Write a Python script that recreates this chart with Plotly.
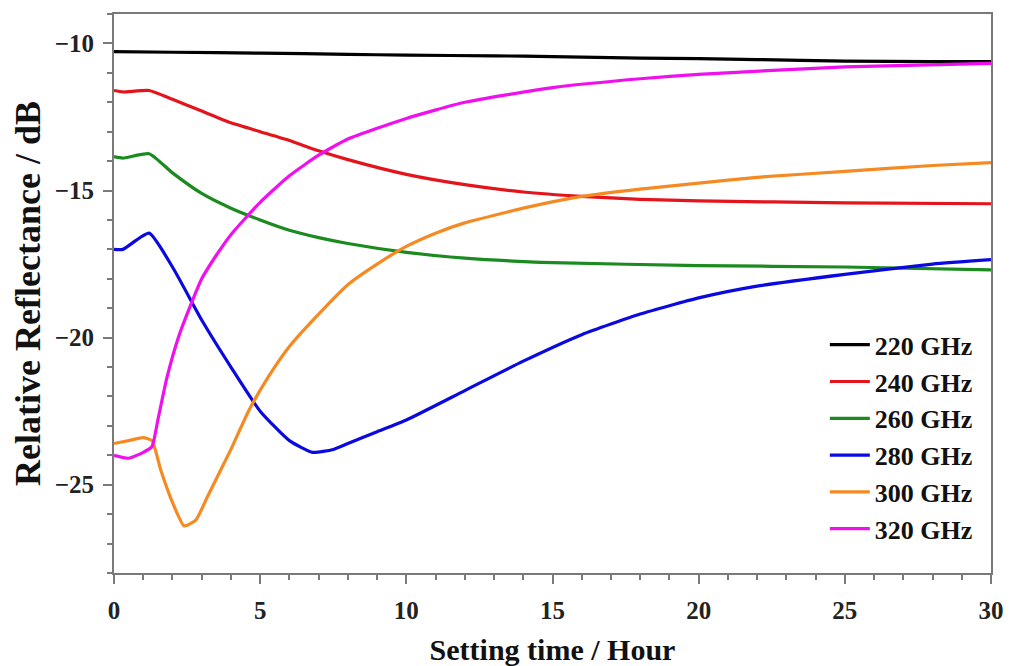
import plotly.graph_objects as go

# ---- data ----
labels = ["220 GHz", "240 GHz", "260 GHz", "280 GHz", "300 GHz", "320 GHz"]
colors = ["#000000", "#e3141c", "#1b8a1f", "#0a0ae0", "#f58a22", "#f010ee"]

x_220 = [0, 2, 5, 8, 10, 13, 15, 18, 20, 22, 25, 28, 30]
y_220 = [-10.28, -10.3, -10.33, -10.37, -10.4, -10.42, -10.45, -10.5, -10.52, -10.55, -10.6, -10.62, -10.62]

x_240 = [0, 0.3, 1.2, 2, 3, 4, 5, 6, 7, 8, 10, 12, 14, 16, 18, 20, 25, 30]
y_240 = [-11.6, -11.65, -11.6, -11.9, -12.3, -12.7, -13.0, -13.3, -13.65, -13.95, -14.45, -14.8, -15.05, -15.2, -15.3, -15.35, -15.42, -15.45]

x_260 = [0, 0.3, 1.2, 2, 3, 4, 5, 6, 7, 8, 10, 12, 15, 20, 25, 30]
y_260 = [-13.85, -13.9, -13.75, -14.4, -15.1, -15.6, -16.0, -16.35, -16.6, -16.8, -17.1, -17.3, -17.45, -17.55, -17.6, -17.7]

x_280 = [0, 0.3, 1.2, 2, 3, 4, 5, 6, 6.8, 7.5, 8, 9, 10, 12, 14, 16, 18, 20, 22, 25, 28, 30]
y_280 = [-17.0, -17.0, -16.45, -17.6, -19.4, -21.0, -22.5, -23.5, -23.9, -23.8, -23.6, -23.2, -22.8, -21.8, -20.8, -19.9, -19.2, -18.65, -18.25, -17.85, -17.5, -17.35]

x_300 = [0, 0.5, 1, 1.3, 1.6, 2.0, 2.4, 2.8, 3.2, 3.6, 4.0, 4.6, 5.3, 6, 7, 8, 9, 10, 11, 12, 14, 16, 18, 20, 22, 25, 28, 30]
y_300 = [-23.6, -23.5, -23.4, -23.5, -24.5, -25.6, -26.4, -26.2, -25.4, -24.6, -23.8, -22.5, -21.3, -20.3, -19.2, -18.2, -17.5, -16.9, -16.45, -16.1, -15.6, -15.2, -14.95, -14.75, -14.55, -14.35, -14.15, -14.05]

x_320 = [0, 0.5, 1, 1.3, 1.5, 1.8, 2.2, 2.7, 3, 3.5, 4, 5, 6, 7, 8, 10, 12, 15, 18, 20, 25, 30]
y_320 = [-24.0, -24.1, -23.9, -23.7, -22.8, -21.4, -20.0, -18.7, -18.0, -17.2, -16.5, -15.4, -14.5, -13.8, -13.25, -12.55, -12.0, -11.5, -11.2, -11.05, -10.8, -10.68]

xs = [x_220, x_240, x_260, x_280, x_300, x_320]
ys = [y_220, y_240, y_260, y_280, y_300, y_320]

x_ticks = [0, 5, 10, 15, 20, 25, 30]
y_ticks = [-25, -20, -15, -10]

SERIF = "Liberation Serif, Times New Roman, serif"
AXIS_GREY = "#7a7a7a"

fig = go.Figure()
for xv, yv, lab, col in zip(xs, ys, labels, colors):
    fig.add_trace(go.Scatter(x=xv, y=yv, mode="lines", name=lab,
                             line=dict(color=col, width=3.2, shape="spline", smoothing=0.5)))

axis_common = dict(
    showgrid=False, zeroline=False, showline=True, linecolor=AXIS_GREY, linewidth=2,
    mirror=True, ticks="outside", ticklen=9, tickwidth=2, tickcolor=AXIS_GREY,
    automargin=False,
    tickfont=dict(family=SERIF, size=25, color="#222222", weight="bold"),
)

fig.update_xaxes(range=[0, 30], tickvals=x_ticks, ticklabelstandoff=5,
                 minor=dict(dtick=1, ticks="outside", ticklen=5, tickwidth=2, tickcolor=AXIS_GREY),
                 title=dict(text="Setting time / Hour", font=dict(family=SERIF, size=30, color="#111111", weight="bold"), standoff=16),
                 **axis_common)
fig.update_yaxes(range=[-28, -9], tickvals=y_ticks, ticklabelstandoff=4,
                 minor=dict(dtick=1, ticks="outside", ticklen=5, tickwidth=2, tickcolor=AXIS_GREY),
                 title=dict(text="Relative Reflectance / dB", font=dict(family=SERIF, size=36, color="#111111", weight="bold"), standoff=12),
                 **axis_common)

# page body has an 8px margin; size/margins compensate so the plot area matches the reference
fig.update_layout(
    width=1003, height=658,
    margin=dict(l=106, r=20, t=6, b=93),
    plot_bgcolor="white", paper_bgcolor="white",
    showlegend=True,
    legend=dict(x=0.985, y=0.037, xanchor="right", yanchor="bottom",
                bgcolor="rgba(0,0,0,0)", borderwidth=0,
                font=dict(family=SERIF, size=26, color="#111111", weight="bold"),
                tracegroupgap=0, itemwidth=40),
)

fig.write_html("out.html")
